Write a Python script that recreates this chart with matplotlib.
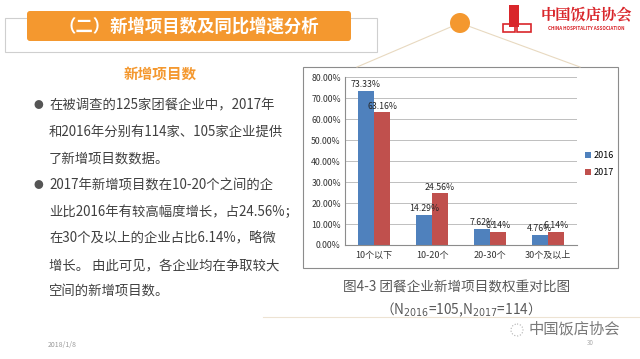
import matplotlib
matplotlib.use("Agg")
from matplotlib import pyplot as plt
from matplotlib.patches import Rectangle, Circle, FancyBboxPatch
import numpy as np

plt.rcParams['font.family'] = ['Noto Sans CJK SC', 'DejaVu Sans']

# chart data
categories = ['10个以下', '10-20个', '20-30个', '30个及以上']
share_2016 = [0.7333, 0.1429, 0.0762, 0.0476]
share_2017 = [0.6316, 0.2456, 0.0614, 0.0614]
series_names = ['2016', '2017']
yticks = [0.0, 0.1, 0.2, 0.3, 0.4, 0.5, 0.6, 0.7, 0.8]

header = '（二）新增项目数及同比增速分析'
subtitle = '新增项目数'
body_lines = [
    ('●', '在被调查的125家团餐企业中，2017年'),
    ('', '和2016年分别有114家、105家企业提供'),
    ('', '了新增项目数数据。'),
    ('●', '2017年新增项目数在10-20个之间的企'),
    ('', '业比2016年有较高幅度增长，占24.56%；'),
    ('', '在30个及以上的企业占比6.14%，略微'),
    ('', '增长。 由此可见，各企业均在争取较大'),
    ('', '空间的新增项目数。'),
]
caption1 = '图4-3 团餐企业新增项目数权重对比图'
caption2 = r'（N$_{2016}$=105,N$_{2017}$=114）'

W, H = 640, 359
fig = plt.figure(figsize=(W / 100, H / 100), dpi=100)
fig.patch.set_facecolor('white')

# background layer in pixel coordinates
bg = fig.add_axes([0, 0, 1, 1])
bg.set_xlim(0, W)
bg.set_ylim(H, 0)
bg.axis('off')

orange = '#F4982F'
# header outline and orange banner
bg.add_patch(Rectangle((5, 18), 372, 34, fill=False, ec='#CFCFCF', lw=0.8))
bg.add_patch(FancyBboxPatch((27, 11), 324, 30, boxstyle='round,pad=0,rounding_size=3',
                            fc=orange, ec='none'))
bg.text(189, 26.5, header, color='white', fontsize=12.5, fontweight='bold',
        ha='center', va='center')

# circle with connector lines
bg.plot([460, 357], [23, 67], color='#E8D9C0', lw=0.8)
bg.plot([460, 580], [23, 67], color='#E8D9C0', lw=0.8)
bg.add_patch(Circle((460, 23), 10, fc=orange, ec='none', zorder=3))

# logo
red = '#D9262B'
bg.add_patch(Rectangle((509, 5), 10, 22, fc=red, ec='none'))
bg.add_patch(Rectangle((503, 24), 12, 8, fill=False, ec=red, lw=1.2))
bg.add_patch(Rectangle((517, 24), 14, 8, fill=False, ec=red, lw=1.2))
bg.text(586, 15, '中国饭店协会', color=red, fontsize=11, fontweight='bold',
        ha='center', va='center', family=['Noto Serif CJK SC', 'Noto Sans CJK SC'])
bg.text(586, 28.5, 'CHINA HOSPITALITY ASSOCIATION', color=red, fontsize=3.3,
        fontweight='bold', ha='center', va='center')

# left text block
bg.text(160, 75, subtitle, color=orange, fontsize=10.5, fontweight='bold',
        ha='center', va='center')
y0, dy = 105, 26.7
for i, (bullet, line) in enumerate(body_lines):
    y = y0 + i * dy
    if bullet:
        bg.text(38, y, bullet, color='#555555', fontsize=7, ha='center', va='center')
    bg.text(49, y, line, color='#404040', fontsize=9.6, ha='left', va='center')
bg.text(48, 345, '2018/1/8', color='#9A9A9A', fontsize=5, ha='left', va='center')

# chart frame
bg.add_patch(Rectangle((303, 67), 315, 201, fc='white', ec='#8C8C8C', lw=0.8))
bg.plot([263, 640], [317, 317], color='#EDE3D3', lw=0.8)

# captions
bg.text(457, 287, caption1, color='#595959', fontsize=9.8, ha='center', va='center')
bg.text(457, 310, caption2, color='#595959', fontsize=9.8, ha='center', va='center')

# bottom-right mark
bg.add_patch(Circle((517, 330), 6, fill=False, ec='#B0B0B0', lw=0.8, ls=':'))
bg.text(574, 329, '中国饭店协会', color='#7A7A7A', fontsize=11, ha='center', va='center')
bg.text(590, 343, '30', color='#AAAAAA', fontsize=4.5, ha='center', va='center')

# the bar chart
ax = fig.add_axes([345 / W, 1 - 245 / H, (577 - 345) / W, (245 - 77) / H])
ax.patch.set_alpha(0)
x = np.arange(len(categories))
bw = 0.28
colors = ['#4F81BD', '#C0504D']
b1 = ax.bar(x - bw / 2, share_2016, bw, color=colors[0], label=series_names[0], zorder=2)
b2 = ax.bar(x + bw / 2, share_2017, bw, color=colors[1], label=series_names[1], zorder=2)
for bars, vals in ((b1, share_2016), (b2, share_2017)):
    for r, v in zip(bars, vals):
        ax.text(r.get_x() + r.get_width() / 2, v + 0.008, f'{v * 100:.2f}%',
                ha='center', va='bottom', fontsize=6.3, color='#262626', zorder=3)
ax.set_xlim(-0.5, len(categories) - 0.5)
ax.set_ylim(0, 0.8)
ax.set_yticks(yticks)
ax.set_yticklabels([f'{t * 100:.2f}%' for t in yticks], fontsize=6.3, color='#333333')
ax.set_xticks(x)
ax.set_xticklabels(categories, fontsize=6.5, color='#333333')
ax.yaxis.grid(True, color='#BFBFBF', lw=0.7, zorder=0)
ax.tick_params(axis='y', length=0, pad=3)
ax.tick_params(axis='x', length=0, pad=4)
for s in ('top', 'right'):
    ax.spines[s].set_visible(False)
ax.spines['left'].set_color('#8C8C8C')
ax.spines['bottom'].set_color('#8C8C8C')
ax.legend(loc='center left', bbox_to_anchor=(1.0, 0.48), frameon=False, fontsize=6.5,
          handlelength=0.6, handleheight=0.6, handletextpad=0.3, labelspacing=0.9)

fig.savefig('out.png', dpi=100)
